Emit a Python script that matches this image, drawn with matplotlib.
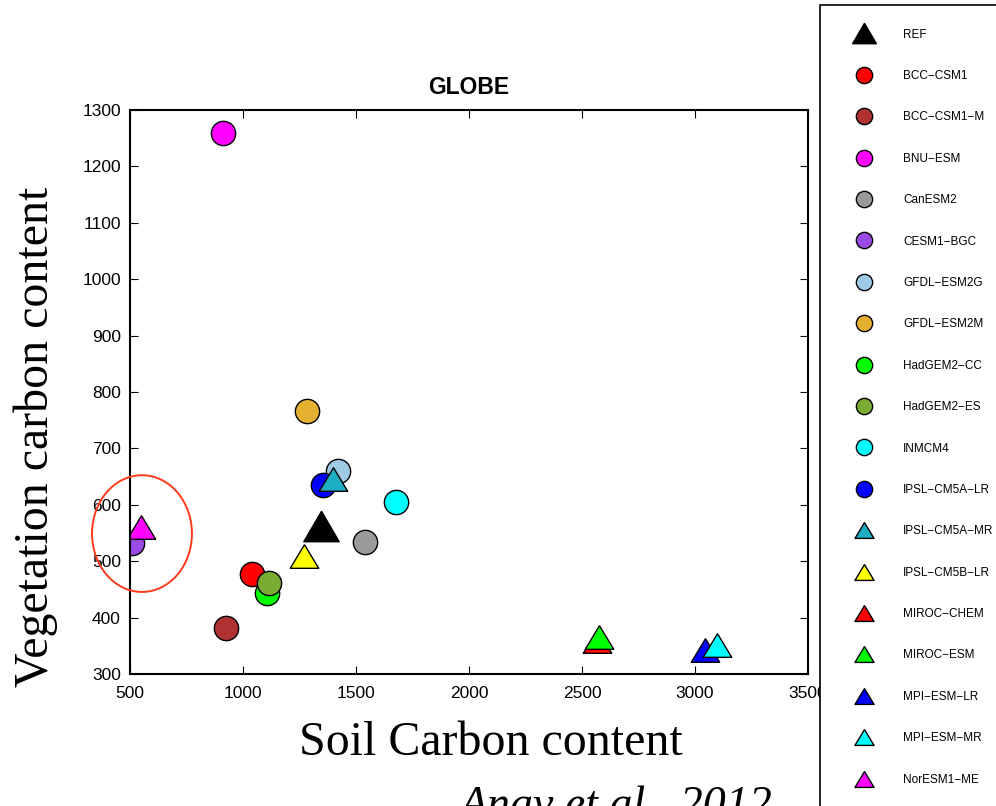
import matplotlib
matplotlib.use("Agg")
import matplotlib.pyplot as plt
from matplotlib.lines import Line2D
from matplotlib.patches import Ellipse

# model values (soil C, vegetation C)
models = ["REF", "BCC\u2212CSM1", "BCC\u2212CSM1\u2212M", "BNU\u2212ESM", "CanESM2",
          "CESM1\u2212BGC", "GFDL\u2212ESM2G", "GFDL\u2212ESM2M", "HadGEM2\u2212CC",
          "HadGEM2\u2212ES", "INMCM4", "IPSL\u2212CM5A\u2212LR", "IPSL\u2212CM5A\u2212MR",
          "IPSL\u2212CM5B\u2212LR", "MIROC\u2212CHEM", "MIROC\u2212ESM", "MPI\u2212ESM\u2212LR",
          "MPI\u2212ESM\u2212MR", "NorESM1\u2212ME"]
soil = [1345, 1038, 923, 911, 1541, 510, 1419, 1282, 1105, 1113, 1677,
        1355, 1397, 1268, 2568, 2575, 3043, 3096, 550]
veg = [563, 477, 382, 1259, 534, 532, 660, 767, 444, 461, 605,
       635, 645, 509, 358, 365, 343, 352, 561]
shapes = ["ref", "o", "o", "o", "o", "o", "o", "o", "o", "o", "o",
          "o", "tri", "tri", "tri", "tri", "tri", "tri", "tri"]
colors = ["black", "#ff0000", "#b03131", "#ff00ff", "#9a9a9a", "#9a4be3",
          "#9ecae6", "#e6b031", "#00ff00", "#7aab32", "#00ffff", "#0000ff",
          "#1eaec4", "#ffff00", "#ff0000", "#00ff00", "#0000ff", "#00ffff",
          "#ff00ff"]

xticks = [500, 1000, 1500, 2000, 2500, 3000, 3500]
yticks = [300, 400, 500, 600, 700, 800, 900, 1000, 1100, 1200, 1300]

sans = "Liberation Sans"
serif = "Liberation Serif"

tri = [(0, 0.83), (-1, -0.83), (1, -0.83), (0, 0.83)]
ref_tri = [(0, 0.86), (-1, -0.86), (1, -0.86), (0, 0.86)]
marker_of = {"o": ("o", 17.5), "tri": (tri, 20.5), "ref": (ref_tri, 25.5)}

fig = plt.figure(figsize=(9.96, 8.06), dpi=100)
ax = fig.add_axes([130 / 996, 132 / 806, 678 / 996, 564 / 806])

handles = []
for name, x, y, shp, c in zip(models, soil, veg, shapes, colors):
    mk, ms = marker_of[shp]
    ax.plot(x, y, ls="none", marker=mk, ms=ms, mfc=c, mec="black", mew=1.0)
    handles.append(Line2D([], [], ls="none", marker=mk, ms=ms, mfc=c,
                          mec="black", mew=1.0))

# red circle highlighting NorESM1-ME / CESM1-BGC
ax.add_patch(Ellipse((553, 549), 442, 207, fill=False, ec="#ff3a1c",
                     lw=1.4, clip_on=False, zorder=3))

ax.set_xlim(500, 3500)
ax.set_ylim(300, 1300)
ax.set_xticks(xticks)
ax.set_yticks(yticks)
ax.tick_params(direction="in", top=True, right=True, length=5.5, width=0.8,
               labelsize=12.5)
ax.tick_params(axis="x", pad=8.5)
ax.tick_params(axis="y", pad=6.5)
for lab in ax.get_xticklabels() + ax.get_yticklabels():
    lab.set_family(sans)
for sp in ax.spines.values():
    sp.set_linewidth(1.5)

ax.set_title("GLOBE", fontsize=16.5, fontweight="bold", family=sans, pad=11.5)
ax.set_xlabel("Soil Carbon content", fontsize=34.5, family=serif, va="baseline")
ax.xaxis.set_label_coords(0.5324, -0.1436)
ax.set_ylabel("Vegetation carbon content", fontsize=34.5, family=serif,
              va="baseline")
ax.yaxis.set_label_coords(-0.121, 0.421)

fig.text(460 / 996, -12 / 806, "Anav et al., 2012", fontsize=33, family=serif,
         style="italic", ha="left", va="baseline")

leg = fig.legend(handles, models, loc="upper left",
                 bbox_to_anchor=(820 / 996, 801 / 806), borderaxespad=0,
                 markerscale=0.67, numpoints=1,
                 prop={"family": sans, "size": 8.5},
                 borderpad=1.995, handlelength=3.47, handletextpad=1.565,
                 labelspacing=2.49, frameon=True, fancybox=False,
                 edgecolor="black", framealpha=1)
leg.get_frame().set_linewidth(1.2)

fig.savefig("out.png", dpi=100)
